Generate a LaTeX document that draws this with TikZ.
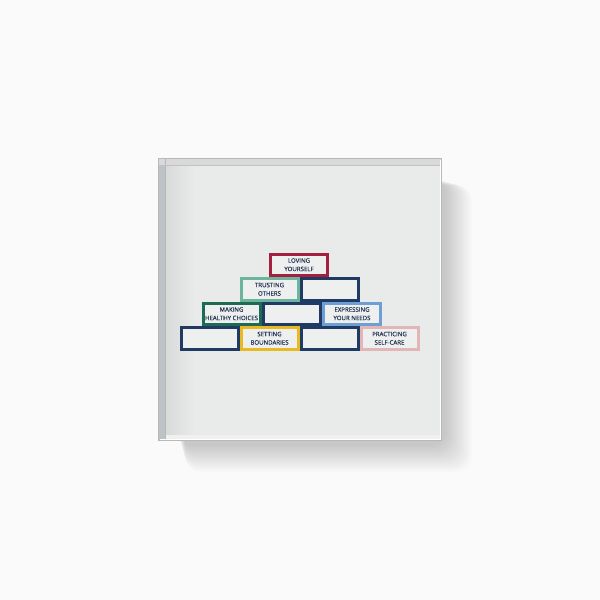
\documentclass[tikz,border=0pt]{standalone}
\usepackage{fontspec}
\setmainfont{Open Sans}
\newfontfamily\brickfont[FakeBold=0.35]{Open Sans}
\usetikzlibrary{shadings}
\definecolor{navyc}{HTML}{1F3A63}
\definecolor{crimc}{HTML}{A3203F}
\definecolor{mintc}{HTML}{6CB49B}
\definecolor{dgrnc}{HTML}{1D6B55}
\definecolor{lblc}{HTML}{6D9ED4}
\definecolor{yelc}{HTML}{E8B923}
\definecolor{pinkc}{HTML}{E2B6B6}
\definecolor{txtc}{HTML}{263553}
\definecolor{fillc}{HTML}{EEEFEF}
\definecolor{pagec}{HTML}{FAFAFA}
\definecolor{innerc}{HTML}{E9EAEA}
\definecolor{edgec}{HTML}{BCC2C6}
\tikzset{
  brick/.style={draw=navyc, fill=fillc, line width=3pt, minimum width=57pt, minimum height=21.5pt,
    inner sep=0pt, outer sep=0pt, align=center, text=txtc,
    font=\brickfont\fontsize{6.1}{8.4}\selectfont},
}
\begin{document}
\begin{tikzpicture}[x=1pt,y=-1pt]
\useasboundingbox (0,0) rectangle (600,600);
\fill[pagec] (0,0) rectangle (600,600);
% soft shadow
\foreach \i in {0,...,24}{
  \fill[black, opacity=0.007, rounded corners=16pt] (178+\i*0.3,178+\i*0.3) rectangle (446+\i*1.1,446+\i*1.1);
}
% acrylic block
\fill[innerc] (158.5,158.5) rectangle (441.5,440);
\shade[left color=innerc!88!black!60!innerc, right color=innerc] (165,158.5) rectangle (195,440);
\fill[edgec] (158.5,158.5) rectangle (165,440);
\fill[white!85!black] (158.5,158.5) rectangle (441.5,165);
\fill[white!94!black] (165,434.5) rectangle (441.5,440);
\draw[white!72!black, line width=0.6pt] (165,158.5) -- (165,440);
\draw[white!76!black, line width=0.6pt] (158.5,165) -- (441.5,165);
\draw[white!72!black, line width=0.8pt] (158.5,158.5) rectangle (441.5,440);
\draw[white, line width=1pt] (440.5,160) -- (440.5,439) -- (160,439);
% bricks
\node[brick, draw=crimc] (love) at (299,264.75) {LOVING\\YOURSELF};
\node[brick, draw=mintc] (trust) at (269.5,289.25) {TRUSTING\\OTHERS};
\node[brick] (b21) at (329.5,289.25) {};
\node[brick, draw=dgrnc] (make) at (231.5,313.75) {MAKING\\HEALTHY CHOICES};
\node[brick] (b32) at (291.5,313.75) {};
\node[brick, draw=lblc] (expr) at (352,313.75) {EXPRESSING\\YOUR NEEDS};
\node[brick] (b41) at (209.5,338.25) {};
\node[brick, draw=yelc] (set) at (269.5,338.25) {SETTING\\BOUNDARIES};
\node[brick] (b43) at (329.5,338.25) {};
\node[brick, draw=pinkc] (prac) at (389.5,338.25) {PRACTICING\\SELF-CARE};
\end{tikzpicture}
\end{document}
